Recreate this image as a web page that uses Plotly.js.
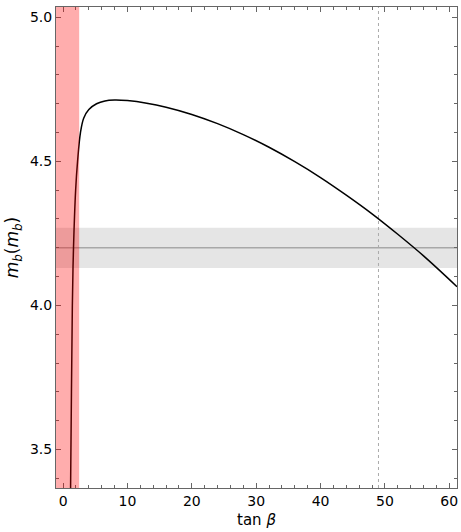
<!DOCTYPE html>
<html>
<head>
<meta charset="utf-8">
<script src="https://cdn.plot.ly/plotly-3.0.1.min.js"></script>
<style>html,body{margin:0;padding:0;background:#fff;}#chart{width:461px;height:532px;}</style>
</head>
<body>
<div id="chart"></div>
<script>
// Curve m_b(m_b) vs tan beta
const tanBeta = [1.1, 1.3, 1.44, 1.62, 1.95, 2.25, 2.7, 3.2, 4.0, 5.2, 6.5, 8, 10, 13, 16, 20, 24, 28, 32, 36, 40, 44, 48, 52, 56, 61.2];
const mbValues = [3.20, 3.70, 4.00, 4.20, 4.40, 4.50, 4.60, 4.65, 4.68, 4.700, 4.710, 4.713, 4.711, 4.702, 4.688, 4.663, 4.631, 4.593, 4.549, 4.499, 4.444, 4.383, 4.318, 4.247, 4.172, 4.065];
// Reference band (measured m_b)
const mbCentral = 4.20;
const mbBand = [4.13, 4.27];
// Excluded region in tan beta
const excludedTanBeta = [-1.1, 2.5];
// Vertical marker
const markerTanBeta = 49;
const xTicks = [0, 10, 20, 30, 40, 50, 60];
const yTicks = [3.5, 4.0, 4.5, 5.0];
const yTickLabels = ['3.5', '4.0', '4.5', '5.0'];

const trace = {
  x: tanBeta, y: mbValues, type: 'scatter', mode: 'lines',
  line: {color: '#000', width: 1.5, shape: 'spline', smoothing: 1},
  hoverinfo: 'skip'
};

const axisCommon = {
  showgrid: false, zeroline: false, showline: true, linecolor: '#666', linewidth: 1,
  mirror: 'ticks', ticks: 'inside', ticklen: 5, tickcolor: '#666', tickwidth: 1,
  tickfont: {family: 'DejaVu Sans', size: 14, color: '#000'}
};

const layout = {
  width: 461, height: 532,
  margin: {l: 56, r: 4, t: 7, b: 44},
  paper_bgcolor: '#fff', plot_bgcolor: '#fff',
  showlegend: false,
  xaxis: Object.assign({}, axisCommon, {
    range: [-1.1, 61.2], tickmode: 'array', tickvals: xTicks,
    ticktext: xTicks.map(String),
    minor: {dtick: 2, tick0: 0, ticks: 'inside', ticklen: 3, tickcolor: '#666'},
    title: {text: 'tan <i>β</i>', font: {family: 'DejaVu Sans', size: 15, color: '#000'}, standoff: 6}
  }),
  yaxis: Object.assign({}, axisCommon, {
    range: [3.366, 5.036], tickmode: 'array', tickvals: yTicks, ticktext: yTickLabels,
    minor: {dtick: 0.1, tick0: 0, ticks: 'inside', ticklen: 3, tickcolor: '#666'},
    title: {text: '<i>m</i><sub><i>b</i></sub>(<i>m</i><sub><i>b</i></sub>)', font: {family: 'DejaVu Sans', size: 17, color: '#000'}, standoff: 6}
  }),
  shapes: [
    {type: 'rect', xref: 'paper', yref: 'y', x0: 0, x1: 1, y0: mbBand[0], y1: mbBand[1],
     fillcolor: '#e5e5e5', line: {width: 0}, layer: 'below'},
    {type: 'line', xref: 'paper', yref: 'y', x0: 0, x1: 1, y0: mbCentral, y1: mbCentral,
     line: {color: '#a8a8a8', width: 1.5}, layer: 'below'},
    {type: 'line', xref: 'x', yref: 'paper', x0: markerTanBeta, x1: markerTanBeta, y0: 0, y1: 1,
     line: {color: '#aaa', width: 1, dash: '3px,3px'}, layer: 'below'},
    {type: 'rect', xref: 'x', yref: 'paper', x0: excludedTanBeta[0], x1: excludedTanBeta[1], y0: 0, y1: 1,
     fillcolor: 'rgba(255,0,0,0.32)', line: {width: 0}, layer: 'above'}
  ]
};

Plotly.newPlot('chart', [trace], layout, {displayModeBar: false, staticPlot: true});
</script>
</body>
</html>
